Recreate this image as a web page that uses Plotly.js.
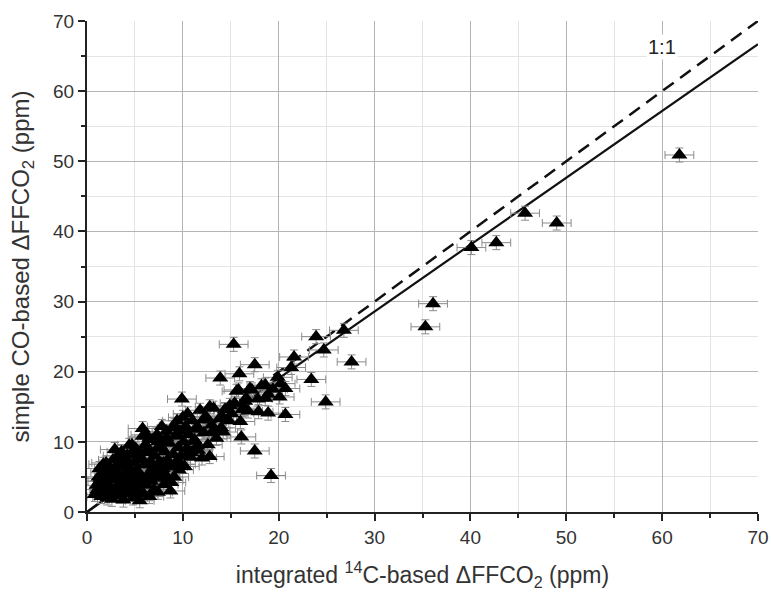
<!DOCTYPE html>
<html>
<head>
<meta charset="utf-8">
<script src="https://cdn.plot.ly/plotly-3.0.1.min.js"></script>
<style>html,body{margin:0;padding:0;background:#fff;}#chart{width:771px;height:599px;}</style>
</head>
<body>
<div id="chart"></div>
<script>
// integrated 14C-based ΔFFCO2 (ppm)
var obsX = [
 61.8, 49.0, 45.7, 42.7, 40.1, 36.1, 35.3, 27.6, 26.8, 24.9, 23.9, 24.7, 23.4, 21.6, 21.3, 17.5, 15.9, 13.9, 15.3,
 18.6, 20.7, 15.8, 17.2, 20.1, 18.6, 15.4, 17.9, 18.9, 20.7, 16.1, 17.5, 19.2, 14.2, 12.8, 18.2, 19.4, 20.2, 16.6, 17.0, 16.4, 19.9,
 0.8, 1.0, 1.2, 1.3, 1.5, 1.6, 1.8, 1.9, 2.0, 2.1, 2.2, 2.3, 2.4, 2.5, 2.6, 2.7, 2.8, 2.9, 3.0, 3.1,
 3.2, 3.3, 3.4, 3.5, 3.6, 3.7, 3.8, 3.9, 4.0, 4.1, 4.2, 4.3, 4.4, 4.5, 4.6, 4.7, 4.8, 4.9, 5.0, 5.1,
 5.2, 5.3, 5.4, 5.5, 5.6, 5.7, 5.8, 5.9, 6.0, 6.1, 6.2, 6.3, 6.4, 6.5, 6.6, 6.7, 6.8, 6.9, 7.0, 7.1,
 7.2, 7.3, 7.4, 7.5, 7.6, 7.7, 7.8, 7.9, 8.0, 8.1, 8.2, 8.3, 8.4, 8.5, 8.6, 8.7, 8.8, 8.9, 9.0, 9.1,
 9.2, 9.3, 9.4, 9.5, 9.6, 9.7, 9.8, 9.9, 10.0, 10.1, 10.2, 10.3, 10.4, 10.5, 10.6, 10.8, 11.0, 11.2, 11.4, 11.6,
 11.8, 12.0, 12.2, 12.4, 12.6, 12.8, 13.0, 13.2, 13.5, 13.8, 14.0, 14.4, 14.8, 15.1, 15.6, 16.0, 16.5, 16.8,
 2.0, 3.0, 4.0, 5.0, 6.0, 7.0, 8.0, 3.5, 4.5, 5.5, 6.5, 1.4, 2.6, 3.8, 4.4, 5.8, 7.3, 9.4, 10.9, 11.7, 12.3, 13.4,
 1.1, 1.7, 2.3, 3.3, 4.2, 5.3, 6.3, 7.4, 8.3, 9.1, 10.2, 11.3, 12.1, 13.0, 14.1, 14.9, 16.2, 17.8, 18.9,
 1.3, 2.5, 3.9, 5.0, 6.8, 7.8, 8.8, 9.8, 10.7, 11.5, 2.9, 4.7, 6.1, 7.6, 9.0
];
// simple CO-based ΔFFCO2 (ppm)
var obsY = [
 50.9, 41.2, 42.6, 38.4, 37.7, 29.7, 26.4, 21.4, 25.9, 15.7, 25.0, 23.1, 18.9, 22.1, 20.6, 21.0, 19.7, 19.1, 23.9,
 18.1, 17.6, 17.4, 17.4, 16.4, 16.2, 15.5, 14.3, 14.1, 13.9, 10.7, 8.7, 5.2, 11.4, 15.0, 18.0, 17.5, 18.3, 16.2, 17.6, 14.8, 19.2,
 2.5, 3.8, 5.0, 6.2, 2.2, 4.4, 3.1, 5.6, 7.0, 2.0, 4.0, 6.3, 3.3, 5.1, 1.8, 7.4, 4.6, 2.7, 6.0, 3.6,
 8.0, 5.3, 2.3, 4.2, 8.6, 6.8, 1.7, 3.0, 5.6, 7.5, 4.5, 2.6, 6.3, 3.4, 8.3, 5.0, 2.0, 7.0, 4.0, 9.0,
 6.0, 3.1, 5.4, 1.6, 7.8, 4.6, 11.9, 2.6, 6.7, 9.6, 3.8, 5.2, 8.5, 2.2, 7.2, 4.4, 10.3, 6.1, 3.2, 8.0,
 5.5, 11.0, 2.8, 7.0, 4.8, 9.3, 12.2, 6.2, 3.9, 8.6, 5.3, 10.6, 7.4, 4.5, 9.8, 3.0, 6.6, 12.0, 8.2, 5.0,
 10.8, 7.1, 13.0, 9.2, 6.0, 11.5, 8.0, 16.1, 13.5, 10.0, 6.5, 12.2, 9.0, 14.0, 11.0, 7.8, 13.0, 10.3, 12.0, 8.8,
 14.5, 7.7, 11.3, 13.6, 9.6, 7.9, 12.4, 14.8, 10.5, 13.3, 12.0, 14.6, 13.0, 14.0, 17.2, 12.9, 15.8, 14.4,
 3.0, 4.6, 3.5, 5.0, 4.0, 6.5, 7.0, 6.5, 6.0, 8.5, 10.5, 4.8, 5.8, 7.2, 9.5, 10.8, 9.0, 11.0, 8.5, 11.8, 13.2, 11.6,
 3.2, 6.8, 5.5, 7.0, 8.1, 7.4, 9.0, 10.0, 11.5, 12.3, 11.9, 10.1, 13.1, 11.3, 13.6, 15.2, 14.6, 16.1, 16.8,
 4.4, 2.9, 4.1, 2.6, 5.0, 5.8, 4.2, 6.8, 8.6, 9.4, 8.9, 9.6, 11.0, 10.2, 6.4
];
var fitX = [0, 70];
var fitY = [0, 66.7];
var oneToOneX = [0, 70];
var oneToOneY = [0, 70];
var tickVals = [0, 10, 20, 30, 40, 50, 60, 70];

var font = 'Liberation Sans, Arial, sans-serif';
var traces = [
  {x: oneToOneX, y: oneToOneY, mode: 'lines', type: 'scatter',
   line: {color: '#111', width: 2.5, dash: '13px,8px'}, hoverinfo: 'skip'},
  {x: fitX, y: fitY, mode: 'lines', type: 'scatter',
   line: {color: '#111', width: 2.2}, hoverinfo: 'skip'},
  {x: obsX, y: obsY, mode: 'markers', type: 'scatter',
   marker: {symbol: 'triangle-up', size: 14, color: '#000'},
   error_x: {type: 'constant', value: 1.5, color: '#8a8a8a', thickness: 1, width: 4},
   error_y: {type: 'constant', value: 1.0, color: '#8a8a8a', thickness: 1, width: 4}}
];
var axisCommon = {
  range: [0, 70], tickvals: tickVals, ticks: 'outside', ticklen: 7, tickwidth: 2, tickcolor: '#222',
  showline: true, linecolor: '#222', linewidth: 2, zeroline: false,
  showgrid: true, gridcolor: '#b4b4b4', gridwidth: 1,
  tickfont: {family: font, size: 19, color: '#333'},
  minor: {dtick: 5, tick0: 0, ticks: 'outside', ticklen: 4, tickwidth: 2, tickcolor: '#222', showgrid: true, gridcolor: '#e4e4e4', gridwidth: 1}
};
var layout = {
  width: 771, height: 599,
  margin: {l: 87, r: 13, t: 21, b: 87},
  paper_bgcolor: '#fff', plot_bgcolor: '#fff',
  showlegend: false,
  xaxis: Object.assign({}, axisCommon, {
    title: {text: 'integrated <sup>14</sup>C-based ΔFFCO<sub>2</sub> (ppm)', font: {family: font, size: 23, color: '#333'}, standoff: 20}
  }),
  yaxis: Object.assign({}, axisCommon, {
    title: {text: 'simple CO-based ΔFFCO<sub>2</sub> (ppm)', font: {family: font, size: 24, color: '#333'}, standoff: 17}
  }),
  annotations: [{x: 60, y: 66.3, xref: 'x', yref: 'y', text: '1:1', showarrow: false,
    font: {family: font, size: 20, color: '#222'}, bgcolor: '#fff'}]
};
Plotly.newPlot('chart', traces, layout, {displayModeBar: false, staticPlot: true});
</script>
</body>
</html>
